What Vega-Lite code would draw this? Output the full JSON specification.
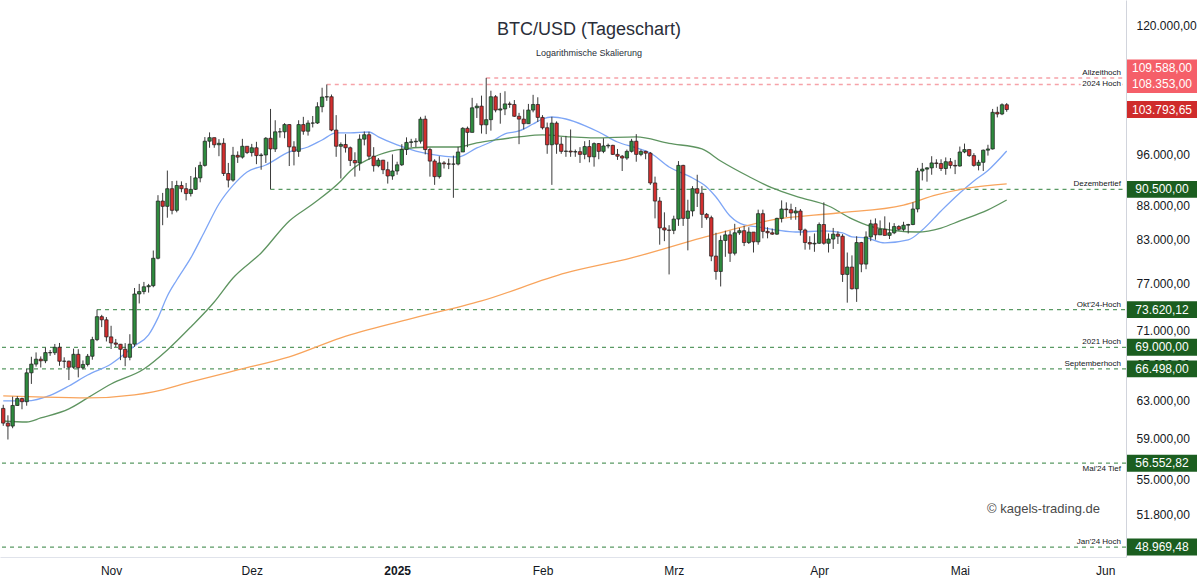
{
"$schema": "https://vega.github.io/schema/vega-lite/v6.json",
"width": 1126,
"height": 557,
"autosize": {"type": "none"},
"padding": {"left": 0, "top": 0, "right": 74, "bottom": 27},
"background": "white",
"config": {
  "view": {"stroke": null},
  "font": "Liberation Sans",
  "locale": {"number": {"decimal": ",", "thousands": ".", "grouping": [3], "currency": ["", " €"]}}
},
"title": {"text": "BTC/USD (Tageschart)", "subtitle": "Logarithmische Skalierung", "anchor": "middle", "offset": -58, "dx": 26, "fontSize": 18, "fontWeight": "normal", "color": "#2a2e39", "font": "Liberation Sans", "subtitleFont": "Liberation Sans", "subtitleFontSize": 9, "subtitleColor": "#2a2e39", "subtitlePadding": 10},
"datasets": {
"levels": [
 {"level": 109588, "name": "Allzeithoch", "kind": "hoch", "start": "2025-01-20"},
 {"level": 108353, "name": "2024 Hoch", "kind": "hoch", "start": "2024-12-17"},
 {"level": 103793.65, "name": "", "kind": "kurs"},
 {"level": 90500, "name": "Dezembertief", "kind": "marke", "start": "2024-12-05"},
 {"level": 73620.12, "name": "Okt'24-Hoch", "kind": "marke", "start": "2024-10-29"},
 {"level": 69000, "name": "2021 Hoch", "kind": "marke"},
 {"level": 66498, "name": "Septemberhoch", "kind": "marke"},
 {"level": 56552.82, "name": "Mai'24 Tief", "kind": "marke"},
 {"level": 48969.48, "name": "Jan'24 Hoch", "kind": "marke"}
],
"notes": [{"t": "© kagels-trading.de", "p": 52250}],
"ma": [
 {"s":"ma20","d":"2024-10-09","v":62940},{"s":"ma20","d":"2024-10-14","v":62940},{"s":"ma20","d":"2024-10-19","v":63540},{"s":"ma20","d":"2024-10-23","v":64570},{"s":"ma20","d":"2024-10-27","v":65800},{"s":"ma20","d":"2024-11-01","v":67060},{"s":"ma20","d":"2024-11-06","v":69170},{"s":"ma20","d":"2024-11-09","v":70490},{"s":"ma20","d":"2024-11-11","v":72580},{"s":"ma20","d":"2024-11-13","v":75360},{"s":"ma20","d":"2024-11-15","v":77460},{"s":"ma20","d":"2024-11-18","v":80450},{"s":"ma20","d":"2024-11-21","v":84250},{"s":"ma20","d":"2024-11-24","v":88250},{"s":"ma20","d":"2024-11-27","v":91110},{"s":"ma20","d":"2024-11-30","v":93240},{"s":"ma20","d":"2024-12-04","v":94370},{"s":"ma20","d":"2024-12-09","v":96500},{"s":"ma20","d":"2024-12-13","v":97330},{"s":"ma20","d":"2024-12-16","v":98510},{"s":"ma20","d":"2024-12-19","v":99700},{"s":"ma20","d":"2024-12-22","v":99700},{"s":"ma20","d":"2024-12-26","v":99870},{"s":"ma20","d":"2024-12-28","v":99020},{"s":"ma20","d":"2025-01-01","v":97670},{"s":"ma20","d":"2025-01-05","v":96660},{"s":"ma20","d":"2025-01-08","v":96160},{"s":"ma20","d":"2025-01-14","v":95670},{"s":"ma20","d":"2025-01-18","v":97170},{"s":"ma20","d":"2025-01-21","v":98170},{"s":"ma20","d":"2025-01-24","v":99530},{"s":"ma20","d":"2025-01-27","v":100040},{"s":"ma20","d":"2025-01-30","v":101250},{"s":"ma20","d":"2025-02-01","v":102120},{"s":"ma20","d":"2025-02-03","v":102470},{"s":"ma20","d":"2025-02-06","v":102120},{"s":"ma20","d":"2025-02-10","v":100980},{"s":"ma20","d":"2025-02-13","v":99870},{"s":"ma20","d":"2025-02-17","v":98170},{"s":"ma20","d":"2025-02-21","v":97170},{"s":"ma20","d":"2025-02-24","v":96330},{"s":"ma20","d":"2025-02-28","v":94050},{"s":"ma20","d":"2025-03-05","v":92280},{"s":"ma20","d":"2025-03-08","v":90870},{"s":"ma20","d":"2025-03-10","v":89320},{"s":"ma20","d":"2025-03-13","v":86460},{"s":"ma20","d":"2025-03-16","v":85130},{"s":"ma20","d":"2025-03-19","v":84840},{"s":"ma20","d":"2025-03-23","v":84400},{"s":"ma20","d":"2025-03-27","v":84110},{"s":"ma20","d":"2025-04-02","v":84260},{"s":"ma20","d":"2025-04-06","v":83970},{"s":"ma20","d":"2025-04-08","v":83400},{"s":"ma20","d":"2025-04-11","v":83260},{"s":"ma20","d":"2025-04-15","v":82550},{"s":"ma20","d":"2025-04-20","v":82970},{"s":"ma20","d":"2025-04-23","v":84400},{"s":"ma20","d":"2025-04-27","v":87210},{"s":"ma20","d":"2025-05-01","v":89940},{"s":"ma20","d":"2025-05-04","v":91810},{"s":"ma20","d":"2025-05-07","v":93480},{"s":"ma20","d":"2025-05-11","v":96660},
 {"s":"ma50","d":"2024-10-09","v":60800},{"s":"ma50","d":"2024-10-14","v":60700},{"s":"ma50","d":"2024-10-17","v":61120},{"s":"ma50","d":"2024-10-23","v":62080},{"s":"ma50","d":"2024-10-27","v":63260},{"s":"ma50","d":"2024-11-01","v":64790},{"s":"ma50","d":"2024-11-08","v":66480},{"s":"ma50","d":"2024-11-13","v":68690},{"s":"ma50","d":"2024-11-18","v":71460},{"s":"ma50","d":"2024-11-23","v":74590},{"s":"ma50","d":"2024-11-27","v":77730},{"s":"ma50","d":"2024-12-03","v":81140},{"s":"ma50","d":"2024-12-09","v":85720},{"s":"ma50","d":"2024-12-14","v":88250},{"s":"ma50","d":"2024-12-20","v":91810},{"s":"ma50","d":"2024-12-22","v":93400},{"s":"ma50","d":"2024-12-27","v":95670},{"s":"ma50","d":"2025-01-01","v":96830},{"s":"ma50","d":"2025-01-08","v":97330},{"s":"ma50","d":"2025-01-14","v":97330},{"s":"ma50","d":"2025-01-18","v":98010},{"s":"ma50","d":"2025-01-22","v":98510},{"s":"ma50","d":"2025-01-27","v":99020},{"s":"ma50","d":"2025-02-01","v":99360},{"s":"ma50","d":"2025-02-07","v":99020},{"s":"ma50","d":"2025-02-12","v":98850},{"s":"ma50","d":"2025-02-21","v":99020},{"s":"ma50","d":"2025-02-28","v":97930},{"s":"ma50","d":"2025-03-07","v":97000},{"s":"ma50","d":"2025-03-11","v":95020},{"s":"ma50","d":"2025-03-17","v":92520},{"s":"ma50","d":"2025-03-22","v":90720},{"s":"ma50","d":"2025-03-28","v":89240},{"s":"ma50","d":"2025-04-03","v":87950},{"s":"ma50","d":"2025-04-08","v":86020},{"s":"ma50","d":"2025-04-12","v":84910},{"s":"ma50","d":"2025-04-17","v":84330},{"s":"ma50","d":"2025-04-22","v":84110},{"s":"ma50","d":"2025-04-27","v":84690},{"s":"ma50","d":"2025-05-01","v":85720},{"s":"ma50","d":"2025-05-07","v":87360},{"s":"ma50","d":"2025-05-11","v":88860},
 {"s":"ma200","d":"2024-10-09","v":63480},{"s":"ma200","d":"2024-10-16","v":63370},{"s":"ma200","d":"2024-10-27","v":63260},{"s":"ma200","d":"2024-11-06","v":63590},{"s":"ma200","d":"2024-11-10","v":63920},{"s":"ma200","d":"2024-11-18","v":65020},{"s":"ma200","d":"2024-11-28","v":66370},{"s":"ma200","d":"2024-12-09","v":67870},{"s":"ma200","d":"2024-12-20","v":70130},{"s":"ma200","d":"2025-01-03","v":72330},{"s":"ma200","d":"2025-01-19","v":74720},{"s":"ma200","d":"2025-02-06","v":78400},{"s":"ma200","d":"2025-02-20","v":80450},{"s":"ma200","d":"2025-03-07","v":83260},{"s":"ma200","d":"2025-03-22","v":85870},{"s":"ma200","d":"2025-04-05","v":86900},{"s":"ma200","d":"2025-04-19","v":88100},{"s":"ma200","d":"2025-04-26","v":89630},{"s":"ma200","d":"2025-05-03","v":90720},{"s":"ma200","d":"2025-05-11","v":91350}
],
"candles": [
{"d":"2024-10-09","o":62131,"h":62522,"l":60300,"c":60582},
{"d":"2024-10-10","o":60582,"h":61400,"l":58900,"c":60274},
{"d":"2024-10-11","o":60274,"h":63400,"l":60050,"c":62445},
{"d":"2024-10-12","o":62445,"h":63450,"l":62420,"c":63193},
{"d":"2024-10-13","o":63193,"h":63280,"l":62040,"c":62850},
{"d":"2024-10-14","o":62850,"h":66490,"l":62420,"c":66046},
{"d":"2024-10-15","o":66046,"h":67890,"l":64800,"c":67041},
{"d":"2024-10-16","o":67041,"h":68400,"l":66750,"c":67612},
{"d":"2024-10-17","o":67612,"h":67930,"l":66650,"c":67420},
{"d":"2024-10-18","o":67420,"h":68980,"l":67150,"c":68380},
{"d":"2024-10-19","o":68380,"h":68690,"l":68000,"c":68360},
{"d":"2024-10-20","o":68360,"h":69400,"l":68100,"c":69000},
{"d":"2024-10-21","o":69000,"h":69520,"l":66850,"c":67370},
{"d":"2024-10-22","o":67370,"h":67830,"l":66570,"c":67380},
{"d":"2024-10-23","o":67380,"h":67440,"l":65230,"c":66680},
{"d":"2024-10-24","o":66680,"h":68850,"l":66500,"c":68180},
{"d":"2024-10-25","o":68180,"h":68780,"l":65530,"c":66620},
{"d":"2024-10-26","o":66620,"h":67470,"l":66440,"c":67000},
{"d":"2024-10-27","o":67000,"h":68220,"l":66780,"c":67950},
{"d":"2024-10-28","o":67950,"h":70260,"l":67550,"c":69920},
{"d":"2024-10-29","o":69920,"h":73620,"l":69740,"c":72730},
{"d":"2024-10-30","o":72730,"h":72960,"l":71440,"c":72340},
{"d":"2024-10-31","o":72340,"h":72680,"l":69700,"c":70250},
{"d":"2024-11-01","o":70250,"h":71600,"l":68800,"c":69520},
{"d":"2024-11-02","o":69520,"h":70000,"l":69040,"c":69370},
{"d":"2024-11-03","o":69370,"h":69400,"l":67500,"c":68770},
{"d":"2024-11-04","o":68770,"h":69500,"l":66800,"c":67830},
{"d":"2024-11-05","o":67830,"h":70570,"l":67480,"c":69380},
{"d":"2024-11-06","o":69380,"h":76400,"l":69060,"c":75620},
{"d":"2024-11-07","o":75620,"h":76940,"l":74400,"c":75930},
{"d":"2024-11-08","o":75930,"h":77200,"l":75580,"c":76560},
{"d":"2024-11-09","o":76560,"h":76940,"l":75800,"c":76700},
{"d":"2024-11-10","o":76700,"h":81480,"l":76500,"c":80400},
{"d":"2024-11-11","o":80400,"h":89600,"l":80250,"c":88700},
{"d":"2024-11-12","o":88700,"h":89950,"l":85100,"c":87900},
{"d":"2024-11-13","o":87900,"h":93470,"l":86200,"c":90600},
{"d":"2024-11-14","o":90600,"h":91800,"l":86700,"c":87300},
{"d":"2024-11-15","o":87300,"h":91850,"l":87000,"c":91100},
{"d":"2024-11-16","o":91100,"h":91750,"l":90050,"c":90600},
{"d":"2024-11-17","o":90600,"h":91500,"l":88800,"c":89850},
{"d":"2024-11-18","o":89850,"h":92600,"l":89400,"c":90500},
{"d":"2024-11-19","o":90500,"h":94000,"l":90400,"c":92300},
{"d":"2024-11-20","o":92300,"h":94900,"l":91600,"c":94300},
{"d":"2024-11-21","o":94300,"h":99000,"l":94100,"c":98300},
{"d":"2024-11-22","o":98300,"h":99800,"l":97200,"c":98900},
{"d":"2024-11-23","o":98900,"h":98900,"l":97200,"c":97700},
{"d":"2024-11-24","o":97700,"h":98650,"l":95800,"c":97950},
{"d":"2024-11-25","o":97950,"h":98800,"l":92600,"c":93000},
{"d":"2024-11-26","o":93000,"h":94700,"l":90800,"c":91950},
{"d":"2024-11-27","o":91950,"h":97350,"l":91700,"c":95950},
{"d":"2024-11-28","o":95950,"h":96600,"l":94700,"c":95650},
{"d":"2024-11-29","o":95650,"h":98700,"l":95400,"c":97450},
{"d":"2024-11-30","o":97450,"h":97450,"l":96150,"c":96400},
{"d":"2024-12-01","o":96400,"h":97850,"l":95750,"c":97200},
{"d":"2024-12-02","o":97200,"h":98200,"l":94500,"c":95900},
{"d":"2024-12-03","o":95900,"h":96300,"l":93600,"c":96000},
{"d":"2024-12-04","o":96000,"h":99000,"l":94700,"c":98800},
{"d":"2024-12-05","o":98800,"h":103900,"l":90500,"c":97000},
{"d":"2024-12-06","o":97000,"h":101900,"l":96500,"c":99900},
{"d":"2024-12-07","o":99900,"h":100550,"l":98900,"c":99900},
{"d":"2024-12-08","o":99900,"h":101400,"l":98800,"c":101150},
{"d":"2024-12-09","o":101150,"h":101200,"l":94200,"c":97350},
{"d":"2024-12-10","o":97350,"h":98300,"l":94300,"c":96600},
{"d":"2024-12-11","o":96600,"h":101900,"l":95700,"c":101150},
{"d":"2024-12-12","o":101150,"h":102500,"l":99400,"c":100000},
{"d":"2024-12-13","o":100000,"h":101900,"l":99250,"c":101400},
{"d":"2024-12-14","o":101400,"h":102650,"l":100650,"c":101420},
{"d":"2024-12-15","o":101420,"h":105100,"l":101250,"c":104300},
{"d":"2024-12-16","o":104300,"h":107750,"l":103300,"c":106050},
{"d":"2024-12-17","o":106050,"h":108353,"l":105350,"c":106100},
{"d":"2024-12-18","o":106100,"h":106500,"l":100000,"c":100200},
{"d":"2024-12-19","o":100200,"h":102800,"l":95700,"c":97450},
{"d":"2024-12-20","o":97450,"h":98100,"l":92200,"c":97750},
{"d":"2024-12-21","o":97750,"h":99500,"l":96400,"c":97200},
{"d":"2024-12-22","o":97200,"h":97400,"l":94200,"c":95100},
{"d":"2024-12-23","o":95100,"h":96450,"l":92500,"c":94700},
{"d":"2024-12-24","o":94700,"h":99450,"l":93450,"c":98650},
{"d":"2024-12-25","o":98650,"h":99950,"l":97600,"c":99400},
{"d":"2024-12-26","o":99400,"h":99900,"l":95200,"c":95800},
{"d":"2024-12-27","o":95800,"h":97300,"l":93300,"c":94250},
{"d":"2024-12-28","o":94250,"h":95500,"l":94000,"c":95150},
{"d":"2024-12-29","o":95150,"h":95200,"l":92900,"c":93600},
{"d":"2024-12-30","o":93600,"h":94900,"l":91400,"c":92600},
{"d":"2024-12-31","o":92600,"h":96100,"l":92000,"c":93400},
{"d":"2025-01-01","o":93400,"h":94900,"l":92800,"c":94400},
{"d":"2025-01-02","o":94400,"h":97800,"l":94200,"c":96900},
{"d":"2025-01-03","o":96900,"h":98950,"l":96000,"c":98100},
{"d":"2025-01-04","o":98100,"h":98700,"l":97300,"c":98200},
{"d":"2025-01-05","o":98200,"h":98800,"l":97300,"c":98300},
{"d":"2025-01-06","o":98300,"h":102500,"l":97900,"c":102100},
{"d":"2025-01-07","o":102100,"h":102700,"l":96100,"c":96900},
{"d":"2025-01-08","o":96900,"h":97200,"l":92500,"c":95000},
{"d":"2025-01-09","o":95000,"h":95300,"l":91200,"c":92500},
{"d":"2025-01-10","o":92500,"h":95800,"l":92200,"c":94700},
{"d":"2025-01-11","o":94700,"h":95000,"l":93800,"c":94550},
{"d":"2025-01-12","o":94550,"h":95400,"l":93700,"c":94500},
{"d":"2025-01-13","o":94500,"h":95900,"l":89200,"c":94520},
{"d":"2025-01-14","o":94520,"h":97350,"l":94300,"c":96500},
{"d":"2025-01-15","o":96500,"h":100700,"l":96500,"c":100500},
{"d":"2025-01-16","o":100500,"h":100800,"l":97300,"c":99800},
{"d":"2025-01-17","o":99800,"h":105900,"l":99800,"c":104100},
{"d":"2025-01-18","o":104100,"h":104900,"l":102300,"c":104400},
{"d":"2025-01-19","o":104400,"h":106300,"l":99600,"c":101100},
{"d":"2025-01-20","o":101100,"h":109588,"l":99500,"c":102000},
{"d":"2025-01-21","o":102000,"h":107200,"l":100100,"c":106100},
{"d":"2025-01-22","o":106100,"h":106400,"l":103300,"c":103700},
{"d":"2025-01-23","o":103700,"h":106800,"l":101300,"c":103900},
{"d":"2025-01-24","o":103900,"h":107100,"l":102800,"c":104800},
{"d":"2025-01-25","o":104800,"h":105200,"l":104100,"c":104700},
{"d":"2025-01-26","o":104700,"h":105500,"l":102500,"c":102600},
{"d":"2025-01-27","o":102600,"h":103200,"l":97800,"c":102100},
{"d":"2025-01-28","o":102100,"h":103800,"l":100300,"c":101300},
{"d":"2025-01-29","o":101300,"h":104800,"l":101300,"c":103700},
{"d":"2025-01-30","o":103700,"h":106450,"l":103300,"c":104700},
{"d":"2025-01-31","o":104700,"h":106000,"l":101600,"c":102400},
{"d":"2025-02-01","o":102400,"h":102800,"l":100300,"c":100600},
{"d":"2025-02-02","o":100600,"h":101500,"l":96200,"c":97700},
{"d":"2025-02-03","o":97700,"h":102500,"l":91200,"c":101400},
{"d":"2025-02-04","o":101400,"h":101700,"l":96200,"c":97800},
{"d":"2025-02-05","o":97800,"h":99000,"l":96200,"c":96600},
{"d":"2025-02-06","o":96600,"h":99200,"l":95700,"c":96650},
{"d":"2025-02-07","o":96650,"h":100300,"l":95700,"c":96500},
{"d":"2025-02-08","o":96500,"h":96900,"l":95700,"c":96550},
{"d":"2025-02-09","o":96550,"h":97300,"l":94700,"c":96100},
{"d":"2025-02-10","o":96100,"h":98300,"l":95300,"c":97400},
{"d":"2025-02-11","o":97400,"h":98500,"l":94800,"c":95700},
{"d":"2025-02-12","o":95700,"h":98100,"l":94100,"c":97900},
{"d":"2025-02-13","o":97900,"h":98000,"l":95300,"c":96600},
{"d":"2025-02-14","o":96600,"h":98800,"l":96300,"c":97500},
{"d":"2025-02-15","o":97500,"h":97900,"l":97100,"c":97600},
{"d":"2025-02-16","o":97600,"h":97700,"l":96000,"c":96100},
{"d":"2025-02-17","o":96100,"h":97000,"l":95200,"c":95800},
{"d":"2025-02-18","o":95800,"h":96000,"l":93400,"c":95500},
{"d":"2025-02-19","o":95500,"h":96900,"l":95200,"c":96600},
{"d":"2025-02-20","o":96600,"h":98700,"l":96400,"c":98300},
{"d":"2025-02-21","o":98300,"h":99500,"l":94900,"c":96100},
{"d":"2025-02-22","o":96100,"h":96900,"l":95800,"c":96600},
{"d":"2025-02-23","o":96600,"h":96700,"l":95300,"c":96300},
{"d":"2025-02-24","o":96300,"h":96500,"l":91200,"c":91500},
{"d":"2025-02-25","o":91500,"h":92500,"l":86100,"c":88700},
{"d":"2025-02-26","o":88700,"h":89300,"l":82300,"c":84700},
{"d":"2025-02-27","o":84700,"h":87000,"l":82800,"c":84400},
{"d":"2025-02-28","o":84400,"h":85100,"l":78200,"c":84350},
{"d":"2025-03-01","o":84350,"h":86500,"l":83800,"c":86000},
{"d":"2025-03-02","o":86000,"h":95000,"l":85000,"c":94300},
{"d":"2025-03-03","o":94300,"h":94400,"l":85000,"c":86100},
{"d":"2025-03-04","o":86100,"h":88900,"l":81500,"c":87200},
{"d":"2025-03-05","o":87200,"h":91000,"l":86400,"c":90600},
{"d":"2025-03-06","o":90600,"h":92800,"l":87800,"c":89900},
{"d":"2025-03-07","o":89900,"h":91000,"l":84700,"c":86700},
{"d":"2025-03-08","o":86700,"h":86900,"l":85900,"c":86200},
{"d":"2025-03-09","o":86200,"h":86500,"l":80000,"c":80700},
{"d":"2025-03-10","o":80700,"h":84000,"l":77500,"c":78600},
{"d":"2025-03-11","o":78600,"h":83600,"l":76600,"c":82900},
{"d":"2025-03-12","o":82900,"h":84300,"l":80600,"c":83700},
{"d":"2025-03-13","o":83700,"h":84300,"l":79900,"c":81100},
{"d":"2025-03-14","o":81100,"h":85300,"l":80800,"c":84000},
{"d":"2025-03-15","o":84000,"h":84700,"l":83700,"c":84300},
{"d":"2025-03-16","o":84300,"h":85000,"l":82100,"c":82600},
{"d":"2025-03-17","o":82600,"h":84800,"l":82400,"c":84100},
{"d":"2025-03-18","o":84100,"h":84100,"l":81200,"c":82700},
{"d":"2025-03-19","o":82700,"h":87400,"l":82300,"c":86800},
{"d":"2025-03-20","o":86800,"h":87400,"l":83200,"c":84200},
{"d":"2025-03-21","o":84200,"h":84800,"l":83200,"c":84000},
{"d":"2025-03-22","o":84000,"h":84600,"l":83700,"c":83800},
{"d":"2025-03-23","o":83800,"h":86200,"l":83700,"c":86100},
{"d":"2025-03-24","o":86100,"h":88800,"l":85500,"c":87500},
{"d":"2025-03-25","o":87500,"h":88500,"l":86300,"c":87400},
{"d":"2025-03-26","o":87400,"h":88300,"l":85900,"c":86900},
{"d":"2025-03-27","o":86900,"h":87800,"l":85900,"c":87200},
{"d":"2025-03-28","o":87200,"h":87500,"l":83600,"c":84400},
{"d":"2025-03-29","o":84400,"h":84600,"l":81600,"c":82600},
{"d":"2025-03-30","o":82600,"h":83500,"l":81600,"c":82400},
{"d":"2025-03-31","o":82400,"h":83900,"l":81300,"c":82500},
{"d":"2025-04-01","o":82500,"h":85500,"l":82400,"c":85200},
{"d":"2025-04-02","o":85200,"h":88500,"l":82300,"c":82500},
{"d":"2025-04-03","o":82500,"h":83900,"l":81200,"c":83100},
{"d":"2025-04-04","o":83100,"h":84700,"l":81700,"c":83800},
{"d":"2025-04-05","o":83800,"h":84200,"l":82400,"c":83500},
{"d":"2025-04-06","o":83500,"h":83800,"l":77200,"c":78200},
{"d":"2025-04-07","o":78200,"h":81200,"l":74500,"c":79200},
{"d":"2025-04-08","o":79200,"h":80800,"l":76200,"c":76300},
{"d":"2025-04-09","o":76300,"h":83500,"l":74600,"c":82600},
{"d":"2025-04-10","o":82600,"h":82700,"l":78500,"c":79600},
{"d":"2025-04-11","o":79600,"h":84200,"l":78900,"c":83400},
{"d":"2025-04-12","o":83400,"h":85900,"l":82800,"c":85300},
{"d":"2025-04-13","o":85300,"h":86100,"l":83000,"c":83700},
{"d":"2025-04-14","o":83700,"h":85800,"l":83700,"c":84500},
{"d":"2025-04-15","o":84500,"h":86400,"l":83600,"c":83620},
{"d":"2025-04-16","o":83620,"h":85500,"l":83100,"c":84000},
{"d":"2025-04-17","o":84000,"h":85400,"l":83800,"c":84900},
{"d":"2025-04-18","o":84900,"h":85100,"l":84300,"c":84500},
{"d":"2025-04-19","o":84500,"h":85600,"l":84200,"c":85100},
{"d":"2025-04-20","o":85100,"h":85300,"l":83900,"c":85200},
{"d":"2025-04-21","o":85200,"h":88500,"l":85100,"c":87500},
{"d":"2025-04-22","o":87500,"h":93900,"l":87000,"c":93400},
{"d":"2025-04-23","o":93400,"h":94700,"l":91900,"c":93700},
{"d":"2025-04-24","o":93700,"h":94000,"l":91700,"c":93900},
{"d":"2025-04-25","o":93900,"h":95800,"l":92800,"c":94700},
{"d":"2025-04-26","o":94700,"h":95300,"l":93900,"c":94600},
{"d":"2025-04-27","o":94600,"h":95300,"l":93400,"c":93800},
{"d":"2025-04-28","o":93800,"h":95600,"l":92800,"c":94900},
{"d":"2025-04-29","o":94900,"h":95500,"l":93800,"c":94300},
{"d":"2025-04-30","o":94300,"h":95200,"l":92900,"c":94200},
{"d":"2025-05-01","o":94200,"h":97400,"l":94100,"c":96500},
{"d":"2025-05-02","o":96500,"h":97900,"l":96300,"c":96900},
{"d":"2025-05-03","o":96900,"h":96900,"l":95700,"c":95900},
{"d":"2025-05-04","o":95900,"h":96300,"l":94100,"c":94300},
{"d":"2025-05-05","o":94300,"h":95200,"l":93500,"c":94800},
{"d":"2025-05-06","o":94800,"h":96900,"l":93400,"c":96800},
{"d":"2025-05-07","o":96800,"h":97700,"l":95900,"c":97000},
{"d":"2025-05-08","o":97000,"h":103900,"l":96900,"c":103300},
{"d":"2025-05-09","o":103300,"h":104300,"l":102400,"c":103000},
{"d":"2025-05-10","o":103000,"h":104900,"l":102800,"c":104650},
{"d":"2025-05-11","o":104650,"h":104950,"l":103400,"c":103793.65}
]
},
"layer": [
{
 "data": {"name": "levels"},
 "transform": [{"filter": "datum.start != null"}],
 "mark": {"type": "rule", "strokeDash": [4, 4], "clip": true},
 "encoding": {
  "x": {"field": "start", "type": "temporal", "scale": {"type": "utc", "domain": [{"year": 2024, "month": 10, "date": 9, "hours": 9, "utc": true}, {"year": 2025, "month": 6, "date": 4, "hours": 9, "utc": true}]}},
  "x2": {"value": "width"},
  "y": {"field": "level", "type": "quantitative", "scale": {"type": "log", "domain": [48140, 125270], "nice": false}},
  "color": {"condition": {"test": "datum.kind === 'hoch'", "value": "#f6a3a9"}, "value": "#5a9a64"},
  "strokeWidth": {"condition": {"test": "datum.kind === 'hoch'", "value": 1.5}, "value": 1.3}
 }
},
{
 "data": {"name": "levels"},
 "transform": [{"filter": "datum.start == null && datum.kind !== 'kurs'"}],
 "mark": {"type": "rule", "strokeDash": [4, 4], "strokeWidth": 1.3, "color": "#5a9a64"},
 "encoding": {
  "y": {"field": "level", "type": "quantitative"}
 }
},
{
 "data": {"name": "ma"},
 "mark": {"type": "line", "strokeWidth": 1.3, "interpolate": "monotone", "clip": true},
 "encoding": {
  "x": {"field": "d", "type": "temporal"},
  "y": {"field": "v", "type": "quantitative"},
  "color": {"field": "s", "type": "nominal", "scale": {"domain": ["ma20", "ma50", "ma200"], "range": ["#7ea6f6", "#5e9460", "#f8a45c"]}, "legend": null}
 }
},
{
 "data": {"name": "candles"},
 "mark": {"type": "rule", "strokeWidth": 1, "color": "#3a3a3a", "clip": true},
 "encoding": {
  "x": {"field": "d", "type": "temporal"},
  "y": {"field": "l", "type": "quantitative"},
  "y2": {"field": "h"}
 }
},
{
 "data": {"name": "candles"},
 "mark": {"type": "bar", "width": 3.4, "stroke": "#1c1c1c", "strokeWidth": 0.7, "clip": true},
 "encoding": {
  "x": {"field": "d", "type": "temporal",
   "axis": {"title": null, "grid": false, "ticks": false, "tickSize": 0, "labelPadding": 8, "domainColor": "#e0e3eb", "labelColor": "#131722", "labelFontSize": 12, "labelFlush": false, "labelOverlap": false,
     "values": [{"year": 2024, "month": 11, "date": 1, "utc": true}, {"year": 2024, "month": 12, "date": 1, "utc": true}, {"year": 2025, "month": 1, "date": 1, "utc": true}, {"year": 2025, "month": 2, "date": 1, "utc": true}, {"year": 2025, "month": 3, "date": 1, "utc": true}, {"year": 2025, "month": 4, "date": 1, "utc": true}, {"year": 2025, "month": 5, "date": 1, "utc": true}, {"year": 2025, "month": 6, "date": 1, "utc": true}],
     "labelExpr": "utcmonth(datum.value) == 0 ? '' + utcyear(datum.value) : ['Jan','Feb','Mrz','Apr','Mai','Jun','Jul','Aug','Sep','Okt','Nov','Dez'][utcmonth(datum.value)]",
     "labelFontWeight": {"condition": {"test": "utcmonth(datum.value) == 0", "value": "bold"}, "value": "normal"}}},
  "y": {"field": "o", "type": "quantitative",
   "axis": {"orient": "right", "title": null, "grid": false, "ticks": false, "tickSize": 0, "labelPadding": 10, "domainColor": "#d1d4dc", "labelColor": "#131722", "labelFontSize": 12, "labelOverlap": false, "labelFlush": false, "format": ",.2f",
     "values": [120000, 96000, 88000, 83000, 77000, 71000, 67000, 63000, 59000, 55000, 51800]}},
  "y2": {"field": "c"},
  "fill": {"condition": {"test": "datum.c >= datum.o", "value": "#2e8b3e"}, "value": "#d32f2f"}
 }
},
{
 "data": {"name": "levels"},
 "transform": [{"filter": "datum.name !== '' && datum.level != 108353 && datum.level != 56552.82"}],
 "mark": {"type": "text", "align": "right", "baseline": "bottom", "dx": -5, "dy": -1, "fontSize": 8, "color": "#131722"},
 "encoding": {
  "x": {"value": "width"},
  "y": {"field": "level", "type": "quantitative"},
  "text": {"field": "name"}
 }
},
{
 "data": {"name": "levels"},
 "transform": [{"filter": "datum.level == 108353"}],
 "mark": {"type": "text", "align": "right", "baseline": "middle", "dx": -5, "fontSize": 8, "color": "white", "stroke": "white", "strokeWidth": 4},
 "encoding": {
  "x": {"value": "width"},
  "y": {"field": "level", "type": "quantitative"},
  "text": {"field": "name"}
 }
},
{
 "data": {"name": "levels"},
 "transform": [{"filter": "datum.level == 108353"}],
 "mark": {"type": "text", "align": "right", "baseline": "middle", "dx": -5, "fontSize": 8, "color": "#131722"},
 "encoding": {
  "x": {"value": "width"},
  "y": {"field": "level", "type": "quantitative"},
  "text": {"field": "name"}
 }
},
{
 "data": {"name": "levels"},
 "transform": [{"filter": "datum.level == 56552.82"}],
 "mark": {"type": "text", "align": "right", "baseline": "top", "dx": -5, "dy": 2, "fontSize": 8, "color": "#131722"},
 "encoding": {
  "x": {"value": "width"},
  "y": {"field": "level", "type": "quantitative"},
  "text": {"field": "name"}
 }
},
{
 "data": {"name": "levels"},
 "transform": [{"filter": "datum.level != 109588"}],
 "mark": {"type": "point", "shape": "M0.11,-0.94H7.89V0.94H0.11Z", "size": 324, "filled": true, "opacity": 1},
 "encoding": {
  "x": {"value": "width"},
  "y": {"field": "level", "type": "quantitative"},
  "color": {"condition": [{"test": "datum.kind === 'hoch'", "value": "#f55f69"}, {"test": "datum.kind === 'kurs'", "value": "#cf2b2b"}], "value": "#1b5e20"}
 }
},
{
 "data": {"name": "levels"},
 "transform": [{"filter": "datum.level == 109588"}],
 "mark": {"type": "point", "shape": "M0.11,-2.05H7.89V-0.17H0.11Z", "size": 324, "filled": true, "opacity": 1, "color": "#f55f69"},
 "encoding": {
  "x": {"value": "width"},
  "y": {"field": "level", "type": "quantitative"}
 }
},
{
 "data": {"name": "levels"},
 "transform": [{"filter": "datum.level != 109588"}],
 "mark": {"type": "text", "align": "center", "baseline": "middle", "dx": 36, "fontSize": 12, "color": "white"},
 "encoding": {
  "x": {"value": "width"},
  "y": {"field": "level", "type": "quantitative"},
  "text": {"field": "level", "type": "quantitative", "format": ",.2f"}
 }
},
{
 "data": {"name": "levels"},
 "transform": [{"filter": "datum.level == 109588"}],
 "mark": {"type": "text", "align": "center", "baseline": "middle", "dx": 36, "dy": -10, "fontSize": 12, "color": "white"},
 "encoding": {
  "x": {"value": "width"},
  "y": {"field": "level", "type": "quantitative"},
  "text": {"field": "level", "type": "quantitative", "format": ",.2f"}
 }
},
{
 "data": {"name": "notes"},
 "mark": {"type": "text", "align": "right", "baseline": "middle", "dx": -26, "fontSize": 13, "color": "#4a4a4a"},
 "encoding": {
  "x": {"value": "width"},
  "y": {"field": "p", "type": "quantitative"},
  "text": {"field": "t"}
 }
}
]
}
